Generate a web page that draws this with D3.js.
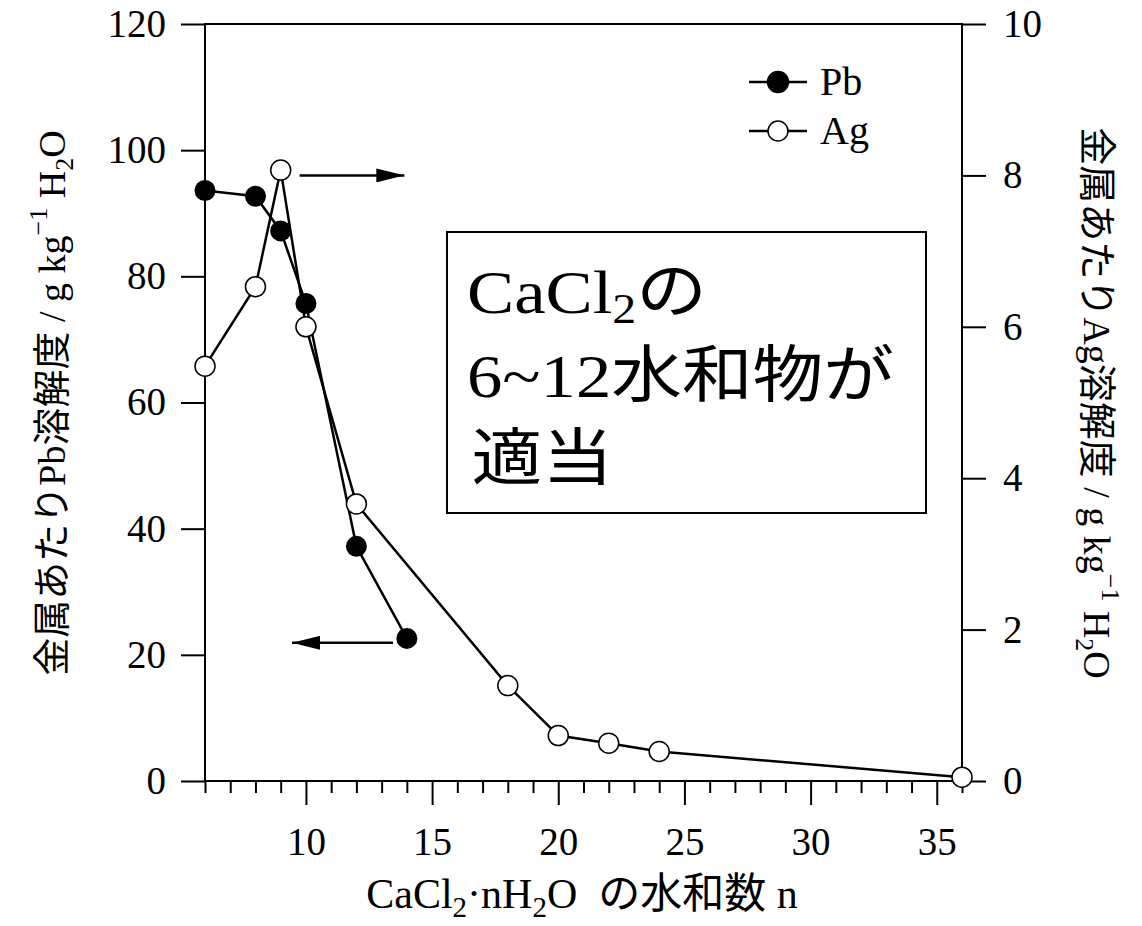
<!DOCTYPE html>
<html>
<head>
<meta charset="utf-8">
<script src="https://cdn.jsdelivr.net/npm/d3@7"></script>
<style>
body { margin: 0; background: #fff; }
text { font-family: "Liberation Serif", "Noto Sans CJK JP", serif; fill: #000; }
</style>
</head>
<body>
<script>
// hydrate number n of CaCl2.nH2O
var pbN = [6, 8, 9, 10, 12, 14];
var pbVal = [93.6, 92.7, 87.2, 75.7, 37.2, 22.6];   // g/kg H2O, left axis
var agN = [6, 8, 9, 10, 12, 18, 20, 22, 24, 36];
var agVal = [5.48, 6.53, 8.07, 6.0, 3.66, 1.26, 0.6, 0.5, 0.39, 0.05]; // right axis

var xTicks = [10, 15, 20, 25, 30, 35];
var yLeftTicks = [0, 20, 40, 60, 80, 100, 120];
var yRightTicks = [0, 2, 4, 6, 8, 10];

var width = 1142, height = 926;
var margin = {top: 24, right: 180, bottom: 145, left: 205};

var svg = d3.select("body").append("svg")
	.attr("width", width)
	.attr("height", height);

var x = d3.scaleLinear().domain([6, 36]).range([margin.left, width - margin.right]);
var yL = d3.scaleLinear().domain([0, 120]).range([height - margin.bottom, margin.top]);
var yR = d3.scaleLinear().domain([0, 10]).range([height - margin.bottom, margin.top]);

var x0 = x.range()[0], x1 = x.range()[1], yb = yL.range()[0], yt = yL.range()[1];

//frame
svg.append("rect")
	.attr("x", x0).attr("y", yt)
	.attr("width", x1 - x0).attr("height", yb - yt)
	.attr("fill", "none").attr("stroke", "#000").attr("stroke-width", 2);

function styleAxis(g){
	g.attr("font-family", "Liberation Serif");
	g.select(".domain").remove();
	g.selectAll("line").attr("stroke", "#000").attr("stroke-width", 2);
	g.selectAll("text").attr("font-size", 39).attr("fill", "#000");
}

//left axis
svg.append("g").attr("transform", "translate(" + x0 + ",0)")
	.call(d3.axisLeft(yL).tickValues(yLeftTicks).tickSize(24).tickPadding(15))
	.call(styleAxis);

//right axis
svg.append("g").attr("transform", "translate(" + x1 + ",0)")
	.call(d3.axisRight(yR).tickValues(yRightTicks).tickSize(24).tickPadding(17))
	.call(styleAxis);

//bottom axis, major
svg.append("g").attr("transform", "translate(0," + yb + ")")
	.call(d3.axisBottom(x).tickValues(xTicks).tickSize(24).tickPadding(22))
	.call(styleAxis);

//bottom axis, minor
svg.append("g").attr("transform", "translate(0," + yb + ")")
	.call(d3.axisBottom(x).tickValues(d3.range(6, 37).filter(function(d){ return d % 5 != 0; }))
		.tickSize(12).tickFormat(""))
	.call(styleAxis);

//lines
var pbData = pbN.map(function(d, i){ return [d, pbVal[i]]; });
var agData = agN.map(function(d, i){ return [d, agVal[i]]; });

var linePb = d3.line().x(function(d){ return x(d[0]); }).y(function(d){ return yL(d[1]); });
var lineAg = d3.line().x(function(d){ return x(d[0]); }).y(function(d){ return yR(d[1]); });

svg.append("path").datum(pbData).attr("d", linePb)
	.attr("fill", "none").attr("stroke", "#000").attr("stroke-width", 2.5);
svg.append("path").datum(agData).attr("d", lineAg)
	.attr("fill", "none").attr("stroke", "#000").attr("stroke-width", 2.5);

svg.selectAll(".pb").data(pbData).enter().append("circle")
	.attr("class", "pb")
	.attr("cx", function(d){ return x(d[0]); })
	.attr("cy", function(d){ return yL(d[1]); })
	.attr("r", 10.5).attr("fill", "#000");

svg.selectAll(".ag").data(agData).enter().append("circle")
	.attr("class", "ag")
	.attr("cx", function(d){ return x(d[0]); })
	.attr("cy", function(d){ return yR(d[1]); })
	.attr("r", 10).attr("fill", "#fff").attr("stroke", "#000").attr("stroke-width", 1.5);

//arrows
var defs = svg.append("defs");
defs.append("marker").attr("id", "head")
	.attr("viewBox", "0 0 28 14").attr("refX", 28).attr("refY", 7)
	.attr("markerWidth", 28).attr("markerHeight", 14)
	.attr("markerUnits", "userSpaceOnUse").attr("orient", "auto")
	.append("path").attr("d", "M0,0L28,7L0,14Z").attr("fill", "#000");

svg.append("line")
	.attr("x1", x(9.75)).attr("x2", x(13.9))
	.attr("y1", yR(8)).attr("y2", yR(8))
	.attr("stroke", "#000").attr("stroke-width", 2.5).attr("marker-end", "url(#head)");
svg.append("line")
	.attr("x1", x(13.45)).attr("x2", x(9.45))
	.attr("y1", yL(21.9)).attr("y2", yL(21.9))
	.attr("stroke", "#000").attr("stroke-width", 2.5).attr("marker-end", "url(#head)");

//legend
var legend = svg.append("g").attr("transform", "translate(749,0)");
[["Pb", 82, true], ["Ag", 131, false]].forEach(function(l){
	legend.append("line").attr("x1", 0).attr("x2", 58).attr("y1", l[1]).attr("y2", l[1])
		.attr("stroke", "#000").attr("stroke-width", 2.5);
	legend.append("circle").attr("cx", 29).attr("cy", l[1]).attr("r", l[2] ? 10.5 : 10)
		.attr("fill", l[2] ? "#000" : "#fff").attr("stroke", "#000").attr("stroke-width", 1.5);
	legend.append("text").attr("x", 71).attr("y", l[1] + 13).attr("font-size", 40).text(l[0]);
});

//text box
svg.append("rect").attr("x", 447).attr("y", 232).attr("width", 479).attr("height", 281)
	.attr("fill", "#fff").attr("stroke", "#000").attr("stroke-width", 2);
var box = svg.append("g").attr("transform", "translate(467,0) scale(1.14,1)")
	.append("text").attr("font-size", 62);
var t1 = box.append("tspan").attr("x", 0).attr("y", 313);
t1.append("tspan").text("CaCl");
t1.append("tspan").attr("font-size", 42).attr("dy", 10).text("2");
t1.append("tspan").attr("dy", -10).text("の");
var t2 = box.append("tspan").attr("x", 0).attr("y", 397);
t2.append("tspan").text("6~12");
t2.append("tspan").style("font-family", "'Noto Sans CJK JP'").text("水和物が");
box.append("tspan").attr("x", 4).attr("y", 480).style("font-family", "'Noto Sans CJK JP'").text("適当");

//x label
var xl = svg.append("text").attr("x", 582).attr("y", 908).attr("text-anchor", "middle").attr("font-size", 42);
xl.append("tspan").text("CaCl");
xl.append("tspan").attr("font-size", 29).attr("dy", 9).text("2");
xl.append("tspan").attr("dy", -9).text("·nH");
xl.append("tspan").attr("font-size", 29).attr("dy", 9).text("2");
xl.append("tspan").attr("dy", -9).text("O\u00a0\u00a0の水和数 n");

//y labels
function yLabel(sel, metal){
	sel.append("tspan").text("金属あたり" + metal + "溶解度 / g kg");
	sel.append("tspan").attr("font-size", 26).attr("dy", -18).text("−1");
	sel.append("tspan").attr("dy", 18).text(" H");
	sel.append("tspan").attr("font-size", 26).attr("dy", 8).text("2");
	sel.append("tspan").attr("dy", -8).text("O");
}
var ylL = svg.append("text").attr("font-size", 38).attr("text-anchor", "middle")
	.attr("transform", "translate(65,403) rotate(-90)");
yLabel(ylL, "Pb");
var ylR = svg.append("text").attr("font-size", 38).attr("text-anchor", "middle")
	.attr("transform", "translate(1084,403) rotate(90)");
yLabel(ylR, "Ag");
</script>
</body>
</html>
